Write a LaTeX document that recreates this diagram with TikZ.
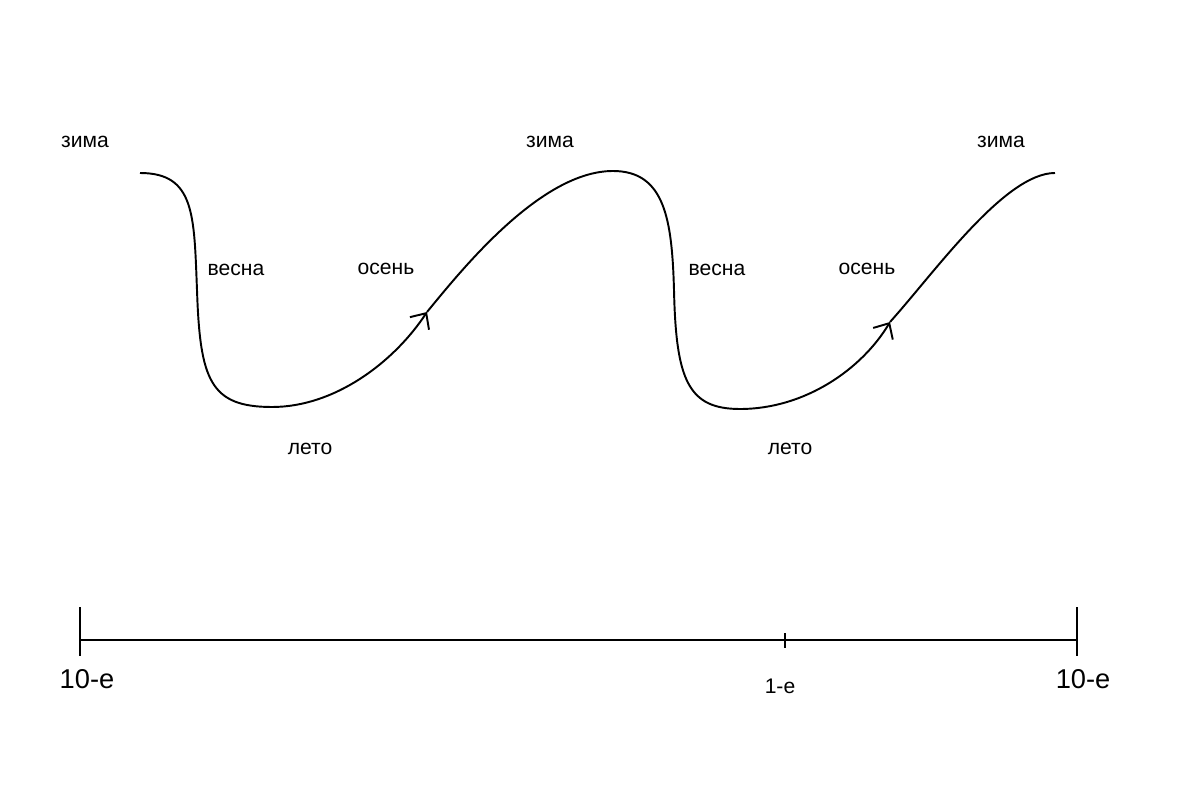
\documentclass[tikz,border=0pt]{standalone}
\usepackage{fontspec}
\setmainfont{Liberation Sans}
\usetikzlibrary{arrows.meta}

\begin{document}
\begin{tikzpicture}[
    x=0.02cm, y=-0.02cm,
    season/.style={font=\fontsize{12}{14}\selectfont},
    era/.style={font=\fontsize{15.5}{18}\selectfont},
    cycle/.style={line width=1.1pt},
    barb/.style={-{Straight Barb[length=7pt, width=13pt, line width=1.1pt]}},
    axis/.style={line width=1.1pt}
]
\useasboundingbox (0,0) rectangle (1200,800);

% points of the cycle
\coordinate (w1) at (140,173);
\coordinate (s1) at (197,290);
\coordinate (l1) at (272,407);
\coordinate (a1) at (427,312);
\coordinate (w2) at (613,171);
\coordinate (s2) at (674,290);
\coordinate (l2) at (740,409);
\coordinate (a2) at (890,322);
\coordinate (w3) at (1055,173);

\draw[cycle, barb] (w1) .. controls (195,173) and (194,215) .. (s1)
    .. controls (200,380) and (210,407) .. (l1)
    .. controls (335,407) and (394,362) .. (a1);
\draw[cycle, barb] (a1) .. controls (460,272) and (540,171) .. (w2)
    .. controls (665,171) and (672,220) .. (s2)
    .. controls (676,380) and (688,409) .. (l2)
    .. controls (805,409) and (862,369) .. (a2);
\draw[cycle] (a2) .. controls (935,272) and (1005,173) .. (w3);

% seasons
\node[season] (zima1) at (85,142) {зима};
\node[season] (zima2) at (550,142) {зима};
\node[season] (zima3) at (1001,142) {зима};
\node[season] (vesna1) at (236,270) {весна};
\node[season] (vesna2) at (717,270) {весна};
\node[season] (osen1) at (386,269) {осень};
\node[season] (osen2) at (867,269) {осень};
\node[season] (leto1) at (310,449) {лето};
\node[season] (leto2) at (790,449) {лето};

% time axis
\coordinate (start) at (80,640);
\coordinate (mid) at (785,640);
\coordinate (end) at (1077,640);
\draw[axis] (start) -- (end);
\draw[axis] (start) ++(0,-33) -- ++(0,49);
\draw[axis] (end) ++(0,-33) -- ++(0,49);
\draw[axis] (mid) ++(0,-7) -- ++(0,15);
\node[era] (dec1) at (87,679) {10-е};
\node[season] (dec2) at (780,686) {1-е};
\node[era] (dec3) at (1083,679) {10-е};
\end{tikzpicture}
\end{document}
